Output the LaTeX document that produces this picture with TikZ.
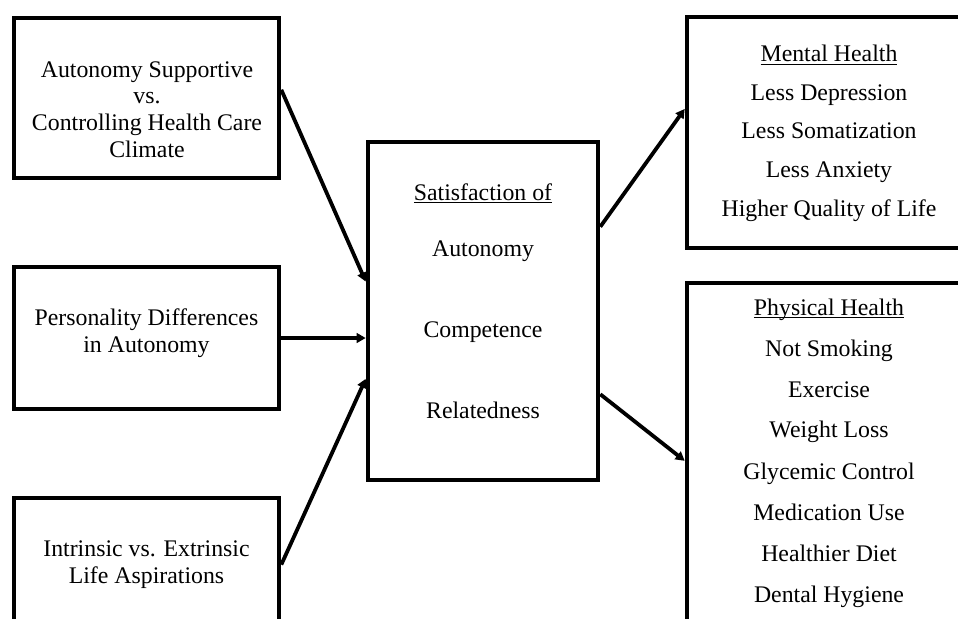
\documentclass[tikz,border=0pt]{standalone}
\usepackage{fontspec}
\setmainfont{Liberation Serif}
\usetikzlibrary{arrows.meta,calc}

\tikzset{
  box/.style={draw, line width=2.3pt, minimum width=132.5pt},
  lbl/.style={inner sep=0pt, anchor=base, font=\fontsize{11.9}{14}\selectfont},
  link/.style={line width=1.9pt, -{Triangle[length=4.5pt,width=4.8pt]}},
}
\newcommand{\headline}[1]{\underline{\smash{#1}}}

\begin{document}
\begin{tikzpicture}[x=0.5pt,y=-0.5pt]
  \useasboundingbox (0,0) rectangle (958,618);
  \clip (0,0) rectangle (958,618);
  % Boxes
  \node[box, minimum height=80pt] (clim) at (146.5,98) {};
  \node[box, minimum height=71pt] (pers) at (146.5,338) {};
  \node[box, minimum height=71pt] (asp) at (146.5,569) {};
  \node[box, minimum width=115pt, minimum height=169pt] (sat) at (483,311) {};
  \node[box, minimum width=142pt, minimum height=115.5pt] (ment) at (829,132.5) {};
  \node[box, minimum width=142pt, minimum height=188.5pt] (phys) at (829,471.5) {};
  % Left texts
  \node[lbl] (climA) at (147,77) {Autonomy Supportive};
  \node[lbl] (climB) at (147,103.5) {vs.};
  \node[lbl] (climC) at (147,130.5) {Controlling Health Care};
  \node[lbl] (climD) at (147,157) {Climate};
  \node[lbl] (persA) at (146.5,325) {Personality Differences};
  \node[lbl] (persB) at (146.5,352) {in Autonomy};
  \node[lbl] (aspA) at (146.5,556) {Intrinsic vs. Extrinsic};
  \node[lbl] (aspB) at (146.5,583) {Life Aspirations};
  % Needs
  \node[lbl] (satHead) at (483,200) {\headline{Satisfaction of}};
  \node[lbl] (satA) at (483,256) {Autonomy};
  \node[lbl] (satB) at (483,337) {Competence};
  \node[lbl] (satC) at (483,418) {Relatedness};
  % Mental health
  \node[lbl] (mentHead) at (829,61.5) {\headline{Mental Health}};
  \node[lbl] (mentA) at (829,100) {Less Depression};
  \node[lbl] (mentB) at (829,138.5) {Less Somatization};
  \node[lbl] (mentC) at (829,177) {Less Anxiety};
  \node[lbl] (mentD) at (829,216.5) {Higher Quality of Life};
  % Physical health
  \node[lbl] (physHead) at (829,315) {\headline{Physical Health}};
  \node[lbl] (physA) at (829,356) {Not Smoking};
  \node[lbl] (physB) at (829,397) {Exercise};
  \node[lbl] (physC) at (829,437) {Weight Loss};
  \node[lbl] (physD) at (829,479) {Glycemic Control};
  \node[lbl] (physE) at (829,520) {Medication Use};
  \node[lbl] (physF) at (829,561) {Healthier Diet};
  \node[lbl] (physG) at (829,602) {Dental Hygiene};
  % Arrows
  \draw[link] ($(clim.north east)!0.45!(clim.south east)$) -- ($(sat.north west)!0.414!(sat.south west)$);
  \draw[link] (pers.east) -- (pers.east -| sat.west);
  \draw[link] ($(asp.north east)!0.47!(asp.south east)$) -- ($(sat.north west)!0.698!(sat.south west)$);
  \draw[link] ($(sat.north east)!0.254!(sat.south east)$) -- ($(ment.north west)!0.40!(ment.south west)$);
  \draw[link] ($(sat.north east)!0.743!(sat.south east)$) -- ($(phys.north west)!0.472!(phys.south west)$);
\end{tikzpicture}
\end{document}
